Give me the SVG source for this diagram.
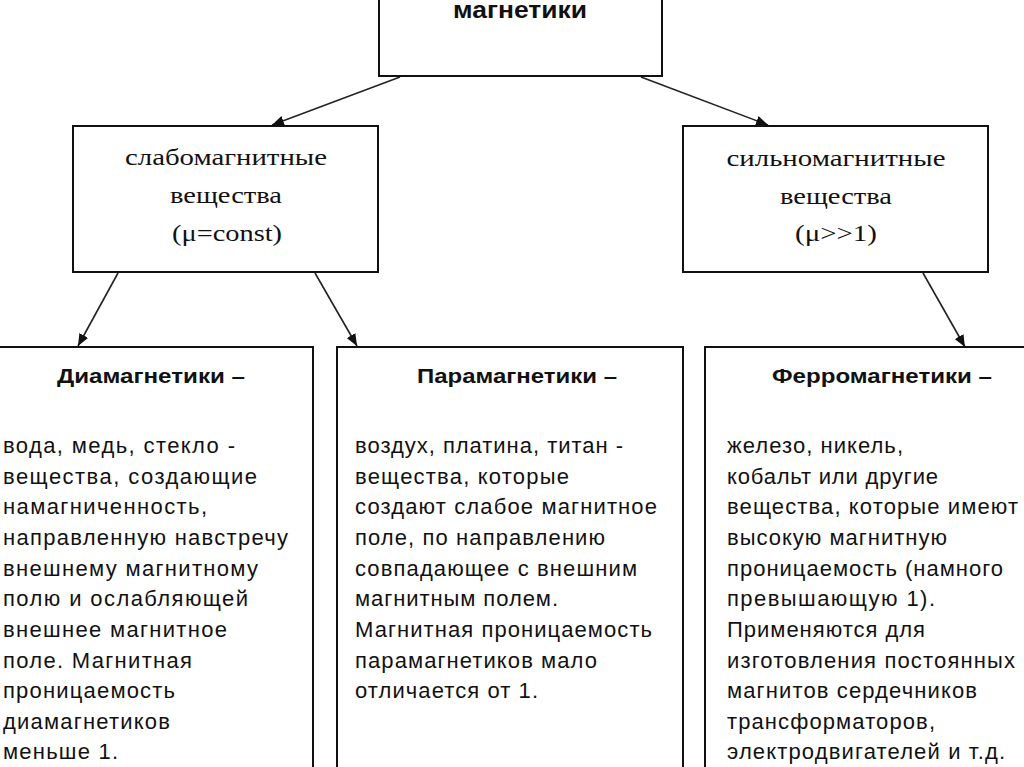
<svg xmlns="http://www.w3.org/2000/svg" width="1024" height="767" viewBox="0 0 1024 767">
<style>
.box{fill:#fff;stroke:#111;stroke-width:2}
.con{stroke:#222;stroke-width:1.6;fill:none}
.ser{font-family:"Liberation Serif",serif;font-size:24px;fill:#111;text-anchor:middle}
.hd{font-family:"Liberation Sans",sans-serif;font-weight:bold;font-size:21px;fill:#111}
.bd{font-family:"Liberation Sans",sans-serif;font-size:22px;fill:#111}
</style>
<defs>
<marker id="ah" viewBox="0 0 12 10" refX="12" refY="5" markerWidth="12" markerHeight="10" markerUnits="userSpaceOnUse" orient="auto">
<path d="M0,0 L12,5 L0,10 z" fill="#111"/>
</marker>
</defs>
<rect width="1024" height="767" fill="#fff"/>
<g id="connectors">
<line class="con" x1="400" y1="77" x2="272" y2="125" marker-end="url(#ah)"/>
<line class="con" x1="641" y1="77" x2="768" y2="125" marker-end="url(#ah)"/>
<line class="con" x1="118" y1="273" x2="78" y2="346" marker-end="url(#ah)"/>
<line class="con" x1="315" y1="273" x2="357" y2="346" marker-end="url(#ah)"/>
<line class="con" x1="923" y1="273" x2="965" y2="347" marker-end="url(#ah)"/>
</g>
<g id="magnetiki">
<rect class="box" x="379" y="-5" width="283" height="81"/>
<text x="453" y="18" font-family="Liberation Sans, sans-serif" font-weight="bold" font-size="24" fill="#111" textLength="134" lengthAdjust="spacingAndGlyphs">магнетики</text>
</g>
<g id="weak">
<rect class="box" x="73" y="126" width="305" height="146"/>
<text class="ser" x="226" y="165" textLength="202" lengthAdjust="spacingAndGlyphs">слабомагнитные</text>
<text class="ser" x="226" y="203" textLength="112" lengthAdjust="spacingAndGlyphs">вещества</text>
<text class="ser" x="227" y="241" textLength="110" lengthAdjust="spacingAndGlyphs">(μ=const)</text>
</g>
<g id="strong">
<rect class="box" x="683" y="126" width="305" height="146"/>
<text class="ser" x="836" y="166" textLength="219" lengthAdjust="spacingAndGlyphs">сильномагнитные</text>
<text class="ser" x="836" y="204" textLength="112" lengthAdjust="spacingAndGlyphs">вещества</text>
<text class="ser" x="836" y="241" textLength="82" lengthAdjust="spacingAndGlyphs">(μ&gt;&gt;1)</text>
</g>
<g id="dia">
<rect class="box" x="-3" y="347" width="316" height="440"/>
<text class="hd" x="57" y="383" textLength="188" lengthAdjust="spacingAndGlyphs">Диамагнетики –</text>
<g class="bd">
<text x="3" y="453" textLength="232" lengthAdjust="spacing">вода, медь, стекло -</text>
<text x="3" y="484" textLength="254" lengthAdjust="spacing">вещества, создающие</text>
<text x="3" y="514" textLength="204" lengthAdjust="spacing">намагниченность,</text>
<text x="3" y="545" textLength="285" lengthAdjust="spacing">направленную навстречу</text>
<text x="3" y="576" textLength="255" lengthAdjust="spacing">внешнему магнитному</text>
<text x="3" y="606" textLength="245" lengthAdjust="spacing">полю и ослабляющей</text>
<text x="3" y="637" textLength="224" lengthAdjust="spacing">внешнее магнитное</text>
<text x="3" y="668" textLength="189" lengthAdjust="spacing">поле. Магнитная</text>
<text x="3" y="698" textLength="172" lengthAdjust="spacing">проницаемость</text>
<text x="3" y="729" textLength="167" lengthAdjust="spacing">диамагнетиков</text>
<text x="3" y="759" textLength="115" lengthAdjust="spacing">меньше 1.</text>
</g>
</g>
<g id="para">
<rect class="box" x="337" y="347" width="346" height="440"/>
<text class="hd" x="417" y="383" textLength="200" lengthAdjust="spacingAndGlyphs">Парамагнетики –</text>
<g class="bd">
<text x="355" y="453" textLength="268" lengthAdjust="spacing">воздух, платина, титан -</text>
<text x="355" y="484" textLength="214" lengthAdjust="spacing">вещества, которые</text>
<text x="355" y="514" textLength="302" lengthAdjust="spacing">создают слабое магнитное</text>
<text x="355" y="545" textLength="250" lengthAdjust="spacing">поле, по направлению</text>
<text x="355" y="576" textLength="282" lengthAdjust="spacing">совпадающее с внешним</text>
<text x="355" y="606" textLength="203" lengthAdjust="spacing">магнитным полем.</text>
<text x="355" y="637" textLength="297" lengthAdjust="spacing">Магнитная проницаемость</text>
<text x="355" y="668" textLength="242" lengthAdjust="spacing">парамагнетиков мало</text>
<text x="355" y="698" textLength="183" lengthAdjust="spacing">отличается от 1.</text>
</g>
</g>
<g id="ferro">
<rect class="box" x="705" y="347" width="330" height="440"/>
<text class="hd" x="772" y="383" textLength="220" lengthAdjust="spacingAndGlyphs">Ферромагнетики –</text>
<g class="bd">
<text x="727" y="453" textLength="176" lengthAdjust="spacing">железо, никель,</text>
<text x="727" y="484" textLength="211" lengthAdjust="spacing">кобальт или другие</text>
<text x="727" y="514" textLength="291" lengthAdjust="spacing">вещества, которые имеют</text>
<text x="727" y="545" textLength="220" lengthAdjust="spacing">высокую магнитную</text>
<text x="727" y="576" textLength="276" lengthAdjust="spacing">проницаемость (намного</text>
<text x="727" y="606" textLength="208" lengthAdjust="spacing">превышающую 1).</text>
<text x="727" y="637" textLength="198" lengthAdjust="spacing">Применяются для</text>
<text x="727" y="668" textLength="288" lengthAdjust="spacing">изготовления постоянных</text>
<text x="727" y="698" textLength="250" lengthAdjust="spacing">магнитов сердечников</text>
<text x="727" y="729" textLength="208" lengthAdjust="spacing">трансформаторов,</text>
<text x="727" y="759" textLength="278" lengthAdjust="spacing">электродвигателей и т.д.</text>
</g>
</g>
</svg>
